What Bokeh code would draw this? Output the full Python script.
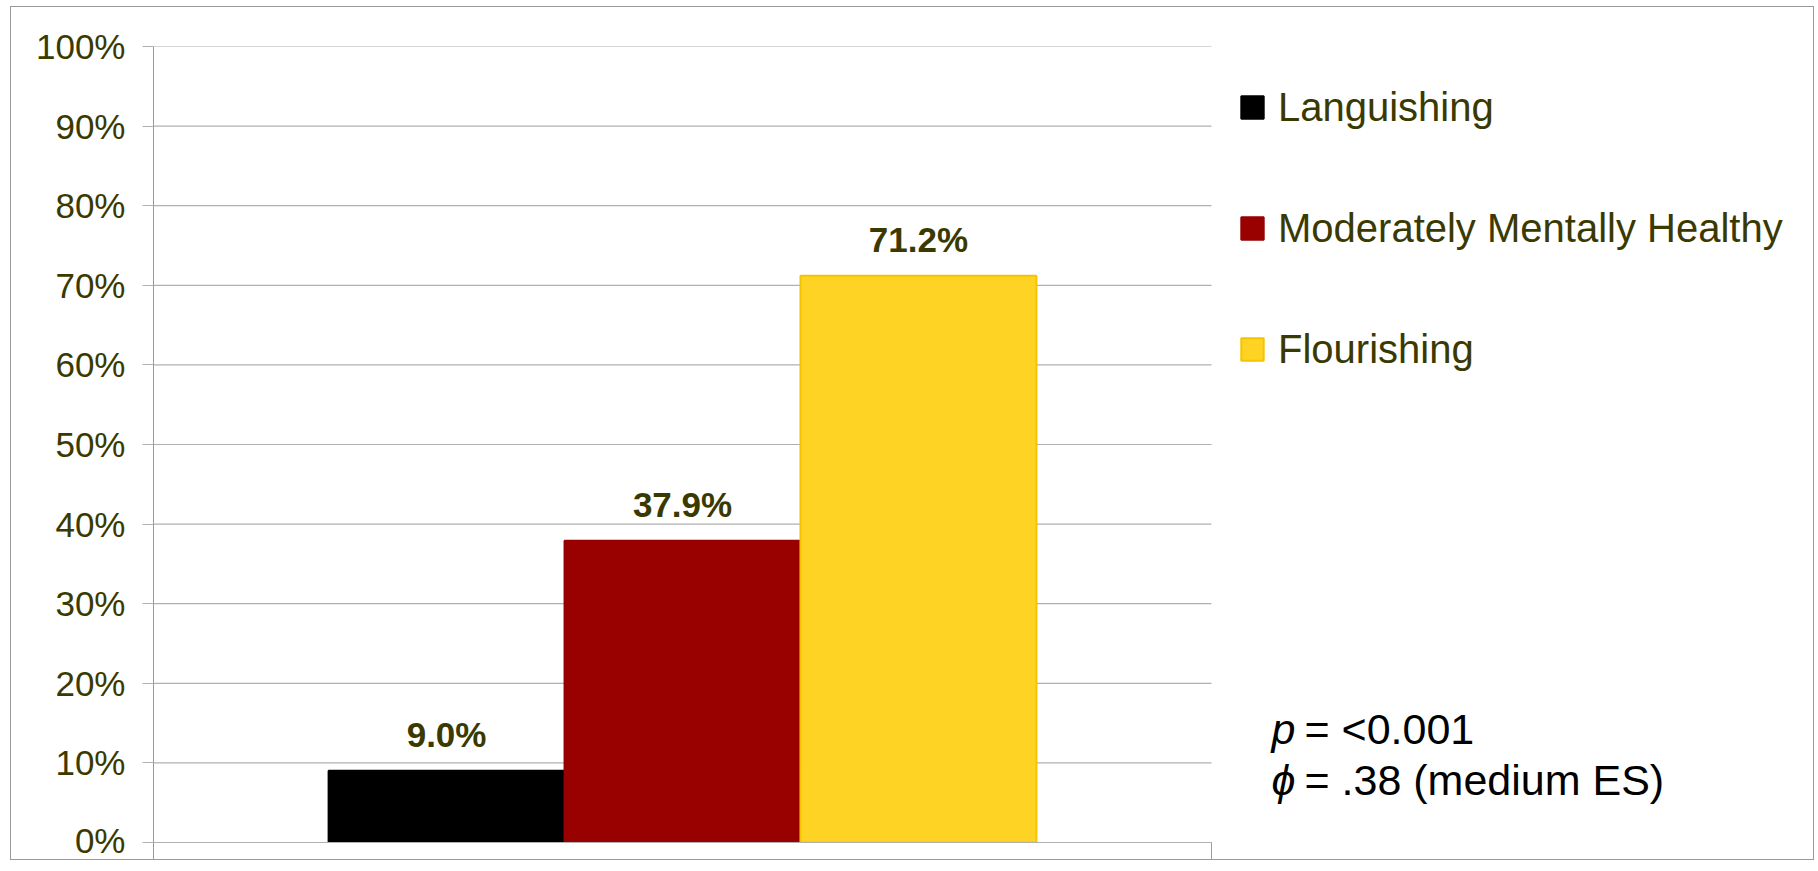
from bokeh.plotting import figure
from bokeh.models import Range1d, FixedTicker, ColumnDataSource, Legend, LegendItem, Label
from bokeh.core.properties import value
from bokeh.embed import file_html
from bokeh.resources import INLINE

# ---- data ----
series = ["Languishing", "Moderately Mentally Healthy", "Flourishing"]
percent = [9.0, 37.9, 71.2]
value_labels = ["9.0%", "37.9%", "71.2%"]
fill_colors = ["#000000", "#990000", "#ffd324"]
line_colors = ["#000000", "#990000", "#f5c400"]
y_ticks = [0, 10, 20, 30, 40, 50, 60, 70, 80, 90, 100]
y_tick_labels = ["0%", "10%", "20%", "30%", "40%", "50%", "60%", "70%", "80%", "90%", "100%"]
stat_symbols = ["p", "\u03d5"]
stat_texts = ["= <0.001", "= .38 (medium ES)"]
stat_rows_y = [14.2, 7.9]

# ---- layout ----
W, H = 1804, 854
LEFT, TOP, BOTTOM = 142, 39, 19
PLOT_W = 1058.0                      # pixel width of the bar area (x from 0 to 1)
X_MAX = (W - LEFT) / PLOT_W
BAR_W = 0.223
GROUP_CENTER = 0.5

TEXT_COL = "#3a3a00"
FONT = "Liberation Sans"

p = figure(width=W, height=H, output_backend="svg", toolbar_location=None,
           x_range=Range1d(0, X_MAX), y_range=Range1d(0, 100),
           min_border_left=LEFT, min_border_right=0, min_border_top=TOP,
           min_border_bottom=BOTTOM)
p.outline_line_color = None
p.background_fill_color = "white"
p.border_fill_color = "white"
p.xgrid.visible = False
p.ygrid.visible = False
p.styles = {"border": "1px solid #9a9a9a", "margin-left": "10px", "margin-top": "6px"}

# gridlines limited to the bar area
p.segment(x0=[0] * len(y_ticks), x1=[1] * len(y_ticks), y0=y_ticks, y1=y_ticks,
          line_color="#b0b0b0", line_width=1.2)

# y axis
yax = p.yaxis[0]
yax.ticker = FixedTicker(ticks=y_ticks)
yax.major_label_overrides = {t: l for t, l in zip(y_ticks, y_tick_labels)}
yax.major_tick_out = 11
yax.major_tick_in = 0
yax.minor_tick_line_color = None
yax.major_tick_line_color = "#b0b0b0"
yax.axis_line_color = "#9a9a9a"
yax.major_label_standoff = 17
yax.major_label_text_font = FONT
yax.major_label_text_font_size = "35px"
yax.major_label_text_color = TEXT_COL

# x axis (only end ticks)
xax = p.xaxis[0]
xax.ticker = FixedTicker(ticks=[0, 1])
xax.bounds = (0, 1)
xax.major_label_overrides = {0: "", 1: ""}
xax.major_label_text_font_size = "0px"
xax.major_label_standoff = 0
xax.major_tick_out = 19
xax.major_tick_in = 0
xax.minor_tick_line_color = None
xax.major_tick_line_color = "#9a9a9a"
xax.axis_line_color = "#b0b0b0"

# bars
n = len(series)
centers = [GROUP_CENTER + (i - (n - 1) / 2) * BAR_W for i in range(n)]
src = ColumnDataSource(dict(x=centers, top=percent, fill=fill_colors, line=line_colors,
                            lab=value_labels, name=series))
bars = p.vbar(x="x", top="top", width=BAR_W, source=src, fill_color="fill",
              line_color="line", line_width=2)

p.text(x="x", y="top", text="lab", source=src, text_align="center",
       text_baseline="alphabetic", y_offset=-36, text_font=value(FONT),
       text_font_style="bold", text_font_size="35px", text_color=TEXT_COL)

# legend
items = [LegendItem(label=series[i], renderers=[bars], index=i) for i in range(n)]
legend = Legend(items=items, location=(1085, 468), orientation="vertical",
                glyph_width=28, glyph_height=28, label_height=50, spacing=71,
                label_standoff=12, padding=0, margin=0,
                label_text_font=FONT, label_text_font_size="40px",
                label_text_color=TEXT_COL, border_line_color=None,
                background_fill_alpha=0)
p.add_layout(legend, "center")

# statistics annotation
x_stat = 1 + 60 / PLOT_W
for sym, txt, yy in zip(stat_symbols, stat_texts, stat_rows_y):
    p.add_layout(Label(x=x_stat, y=yy, text=sym, text_font=FONT, text_font_size="43px",
                       text_font_style="italic", text_color="black",
                       text_baseline="alphabetic"))
    p.add_layout(Label(x=x_stat, y=yy, x_offset=33, text=txt, text_font=FONT,
                       text_font_size="43px", text_color="black",
                       text_baseline="alphabetic"))

open("out.html", "w").write(file_html(p, INLINE))
